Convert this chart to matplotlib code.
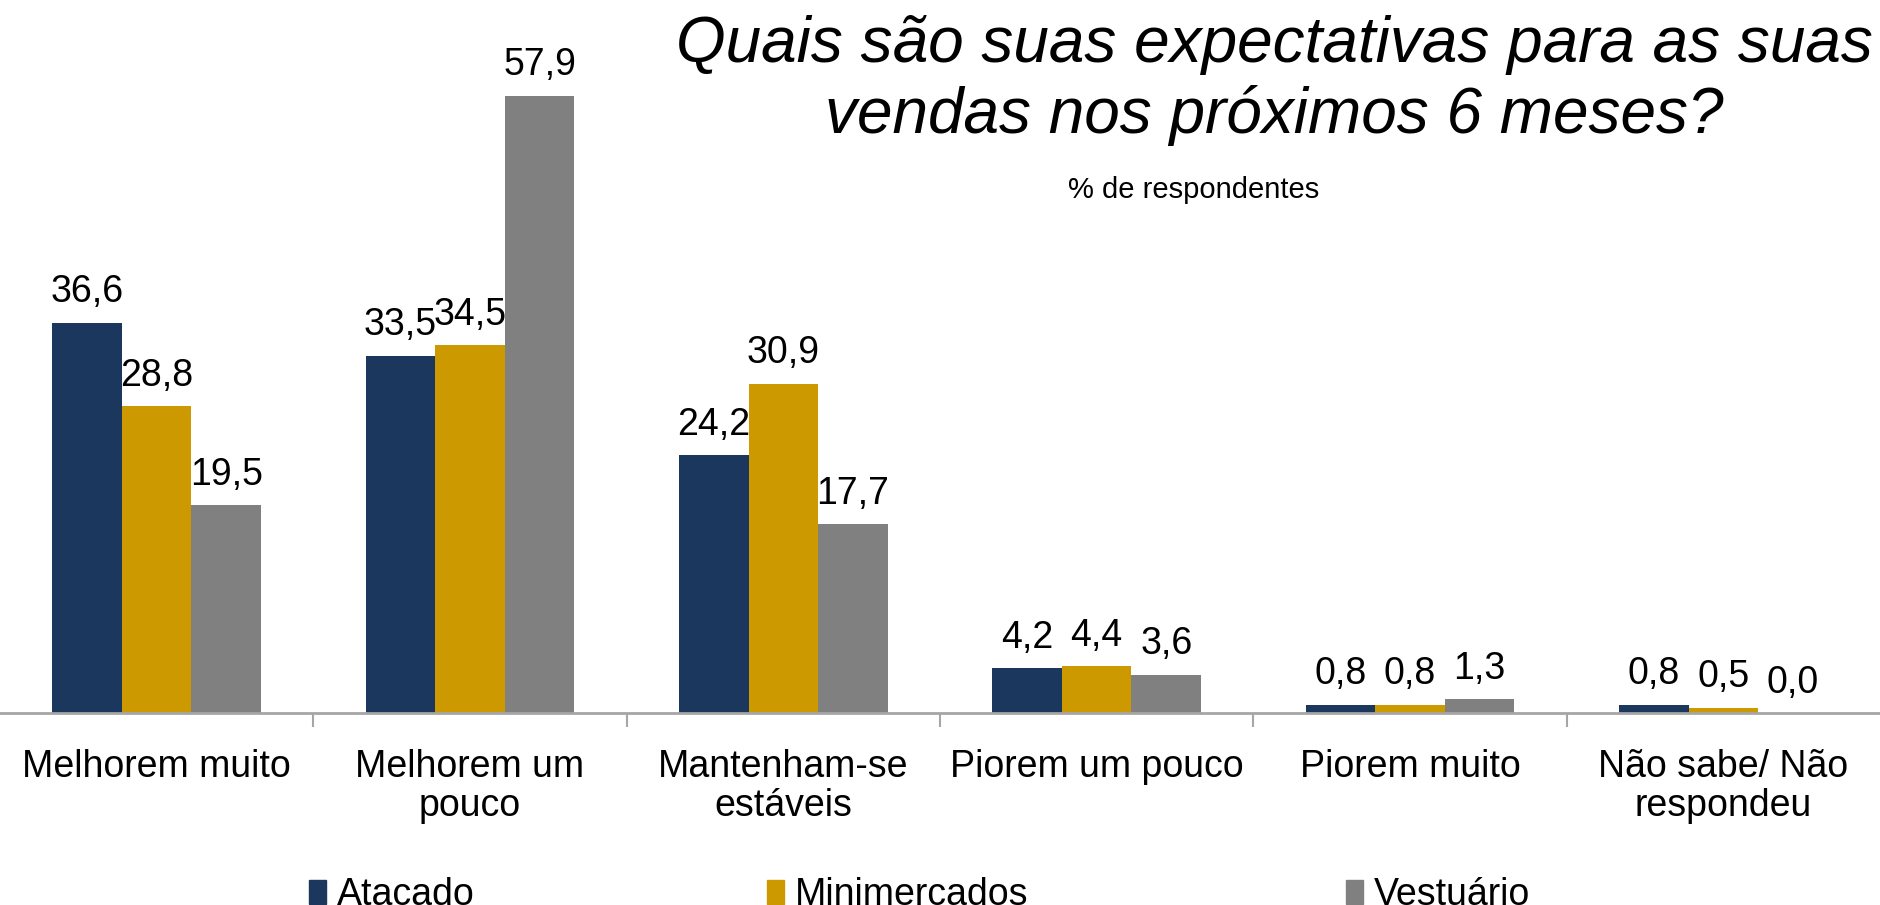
import matplotlib
matplotlib.use("Agg")
import matplotlib.pyplot as plt
import numpy as np
from matplotlib.patches import Patch

categories = ["Melhorem muito", "Melhorem um\npouco", "Mantenham-se\nestáveis",
              "Piorem um pouco", "Piorem muito", "Não sabe/ Não\nrespondeu"]
series_names = ["Atacado", "Minimercados", "Vestuário"]
atacado = [36.6, 33.5, 24.2, 4.2, 0.8, 0.8]
minimercados = [28.8, 34.5, 30.9, 4.4, 0.8, 0.5]
vestuario = [19.5, 57.9, 17.7, 3.6, 1.3, 0.0]
colors = ["#1B375E", "#CC9900", "#808080"]

plt.rcParams['font.family'] = ['Liberation Sans', 'DejaVu Sans']

fig = plt.figure(figsize=(18.8, 9.05), dpi=100)
ax = fig.add_axes([0.0, 0.212, 1.0, 0.707])

FS = 27
x = np.arange(len(categories))
w = 0.222
series = [atacado, minimercados, vestuario]
for i, (vals, c) in enumerate(zip(series, colors)):
    pos = x + (i - 1) * w
    ax.bar(pos, vals, width=w, color=c, label=series_names[i])
    for xp, v in zip(pos, vals):
        ax.annotate(f"{v:.1f}".replace(".", ","), (xp, v), xytext=(0, 9),
                    textcoords="offset points", ha="center", va="bottom",
                    fontsize=FS)

ax.set_xlim(-0.5, 5.5)
ax.set_ylim(0, 60)
for s in ["top", "right", "left"]:
    ax.spines[s].set_visible(False)
ax.spines["bottom"].set_color("#A6A6A6")
ax.spines["bottom"].set_linewidth(2)
ax.set_yticks([])
ax.set_xticks(np.arange(-0.5, 5.5, 1.0)[1:])
ax.set_xticklabels([])
ax.tick_params(axis="x", length=10, width=1.5, color="#A6A6A6")
ax.set_xticks(x, minor=True)
ax.set_xticklabels(categories, minor=True, fontsize=FS, linespacing=1.1)
ax.tick_params(axis="x", which="minor", length=0, pad=26)

fig.text(0.678, 0.911, "Quais são suas expectativas para as suas\nvendas nos próximos 6 meses?",
         ha="center", va="center", fontsize=46, style="italic", linespacing=1.2)
fig.text(0.635, 0.79, "% de respondentes", ha="center", va="center", fontsize=21)

for name, c, xf in zip(series_names, colors, [0.1644, 0.408, 0.716]):
    fig.legend([Patch(color=c)], [name], loc="center left", bbox_to_anchor=(xf, 0.011),
               frameon=False, fontsize=FS, handlelength=0.45, handleheight=0.6,
               handletextpad=0.3, borderpad=0, borderaxespad=0)

fig.savefig("out.png", dpi=100)
